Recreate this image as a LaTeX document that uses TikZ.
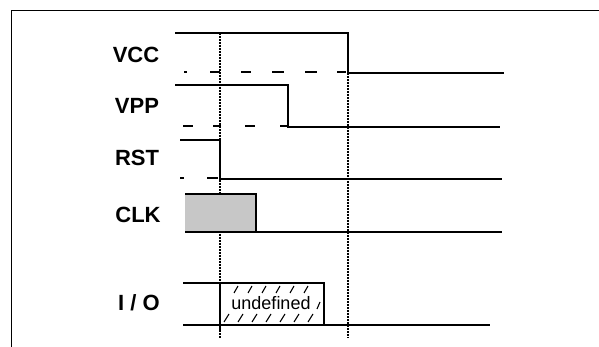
\documentclass[tikz,border=0pt]{standalone}
\usepackage{fontspec}
\setmainfont{Liberation Sans}
\begin{document}
\begin{tikzpicture}[x=1pt,y=-1pt,
  sig/.style={line width=2.2pt},
  lvl/.style={line width=1.6pt},
  guide/.style={line width=1.7pt, dash pattern=on 1.6pt off 1.4pt},
  frame/.style={line width=0.8pt},
  lab/.style={font=\fontsize{22}{22}\selectfont\bfseries, anchor=center},
  hatch/.style={line width=1.1pt}]
\useasboundingbox (0,0) rectangle (599,347);
% frame
\draw[frame] (11,347) -- (11,10) -- (599,10);
% labels
\node[lab] (vcc) at (136,55) {VCC};
\node[lab] (vpp) at (137,106) {VPP};
\node[lab] (rst) at (137,158) {RST};
\node[lab] (clk) at (138,215) {CLK};
\node[lab] (io) at (139,303) {I / O};
% dotted guides
\draw[guide] (220,33) -- (220,338);
\draw[guide] (348,73) -- (348,338);
% VCC
\draw[sig] (175,33) -- (348,33) -- (348,73) -- (504,73);
\foreach \a/\b in {184/187,210/220,241/251,272/284,305/317,337/346}
  \draw[lvl] (\a,72) -- (\b,72);
% VPP
\draw[sig] (175,85) -- (288,85) -- (288,127) -- (500,127);
\foreach \a/\b in {183/193,213/221,245/255,280/288}
  \draw[lvl] (\a,126) -- (\b,126);
% RST
\draw[sig] (180,140) -- (220,140) -- (220,179) -- (502,179);
\foreach \a/\b in {180/184,207/218}
  \draw[lvl] (\a,178) -- (\b,178);
% CLK
\fill[black!22] (185,194) rectangle (256,232);
\draw[sig] (185,194) -- (256,194) -- (256,232);
\draw[sig] (185,232) -- (502,232);
% I/O hatching
\foreach \x in {234,248,262,276,290,304}
  \draw[hatch] (\x,293) -- (\x+4,286);
\foreach \x in {224,238,252,266,280,294,308}
  \draw[hatch] (\x,322) -- (\x+5,314);
\draw[hatch] (317,309) -- (320,302);
\draw[sig] (183,283) -- (324,283) -- (324,325);
\draw[sig] (220,283) -- (220,330);
\draw[sig] (183,325) -- (490,325);
\node[inner sep=0.5pt, font=\fontsize{18}{18}\selectfont] (undef) at (271,303) {undefined};
\end{tikzpicture}
\end{document}
